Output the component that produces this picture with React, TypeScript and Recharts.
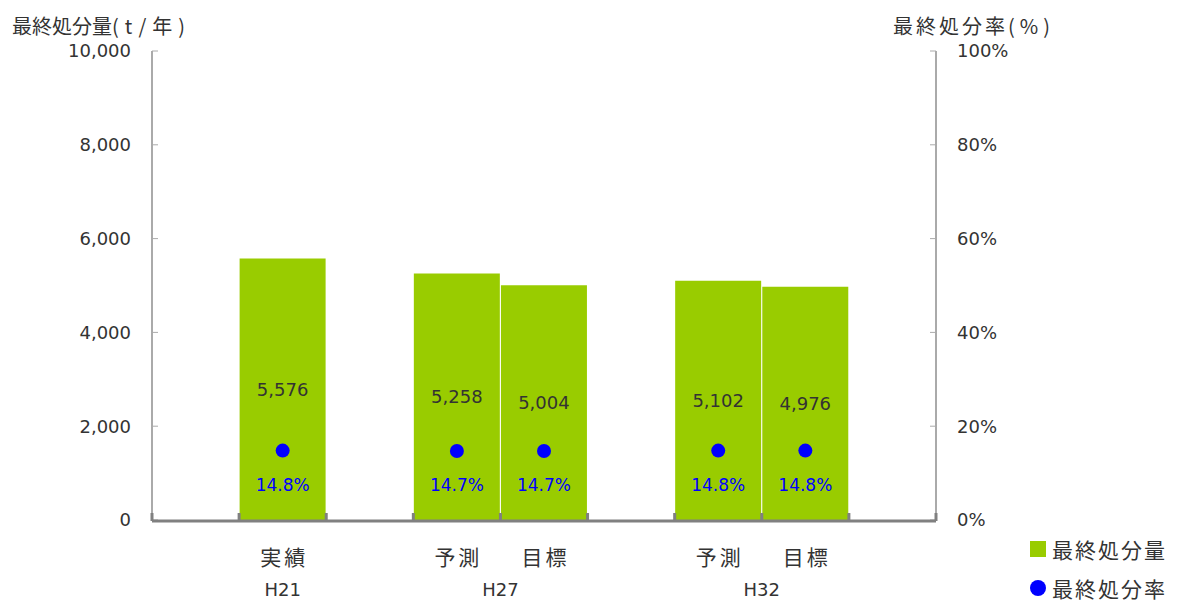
import { ComposedChart, Bar, Line, XAxis, YAxis, LabelList, Legend } from 'recharts';

const CATEGORIES = ['', '実績', '', '予測', '目標', '', '予測', '目標', ''];
const GROUPS = ['', 'H21', '', 'H27', '', '', 'H32', '', ''];
const GROUP_SPAN = [0, 1, 0, 2, 0, 0, 2, 0, 0];
const AMOUNT = [null, 5576, null, 5258, 5004, null, 5102, 4976, null];
const RATE = [null, 14.8, null, 14.7, 14.7, null, 14.8, 14.8, null];
const LEFT_TICKS = [0, 2000, 4000, 6000, 8000, 10000];
const RIGHT_TICKS = [0, 20, 40, 60, 80, 100];

const W = 1177;
const H = 601;
const PLOT_L = 152;
const PLOT_R = 936;
const SLOT = (PLOT_R - PLOT_L) / CATEGORIES.length;

const NUM_FONT = "'DejaVu Sans', 'Noto Sans CJK JP', sans-serif";
const JP_FONT = "'Noto Sans CJK JP', 'DejaVu Sans', sans-serif";
const TEXT = '#333333';
const GREEN = '#99cc00';
const BLUE = '#0000ff';

// slot: center of each category band on a 0..n scale, used only for the boundary tick marks
const data = CATEGORIES.map((name, i) => ({
  name,
  slot: i + 0.5,
  group: GROUPS[i],
  span: GROUP_SPAN[i],
  amount: AMOUNT[i],
  rate: RATE[i],
}));

const fmtNum = (v: any) => (v == null ? '' : Number(v).toLocaleString('en-US'));
const fmtPct = (v: any) => (v == null ? '' : Number(v).toFixed(1) + '%');

function CategoryTick(props: any) {
  const { x, y, index } = props;
  const row = data[index];
  if (!row) return <g />;
  return (
    <g>
      {row.name && (
        <text x={x + 1.5} y={y + 36} textAnchor="middle" dominantBaseline="central" fill={TEXT} fontSize={21} letterSpacing={3} fontFamily={JP_FONT}>
          {row.name}
        </text>
      )}
      {row.group && (
        <text x={x + ((row.span - 1) * SLOT) / 2} y={y + 69} textAnchor="middle" dominantBaseline="central" fill={TEXT} fontSize={18} fontFamily={NUM_FONT}>
          {row.group}
        </text>
      )}
    </g>
  );
}

function RateDot(props: any) {
  const { cx, cy, payload, index } = props;
  if (cy == null || payload == null || payload.rate == null) return <g key={index} />;
  return <circle key={index} cx={cx} cy={cy} r={7} fill={BLUE} />;
}

function LegendBox() {
  const row = { display: 'flex', alignItems: 'center', height: 39, fontSize: 21, letterSpacing: 2, whiteSpace: 'nowrap' as const, color: TEXT, fontFamily: JP_FONT };
  return (
    <div>
      <div style={row}>
        <span style={{ display: 'inline-block', width: 16, height: 16, background: GREEN, marginRight: 6 }} />
        最終処分量
      </div>
      <div style={row}>
        <span style={{ display: 'inline-block', width: 16, height: 16, borderRadius: 8, background: BLUE, marginRight: 6 }} />
        最終処分率
      </div>
    </div>
  );
}

export default function App() {
  return (
    <div style={{ position: 'absolute', left: 0, top: 0, width: W, height: H, background: '#fff' }}>
      <ComposedChart
        width={W}
        height={H}
        data={data}
        margin={{ top: 51, right: 0, bottom: 79, left: 0 }}
        barCategoryGap={0.5}
      >
        <XAxis
          xAxisId="cat"
          dataKey="name"
          height={1}
          axisLine={false}
          tickLine={false}
          tickSize={0}
          tickMargin={0}
          interval={0}
          tick={<CategoryTick />}
        />
        <YAxis
          yAxisId="left"
          width={PLOT_L}
          domain={[0, 10000]}
          ticks={LEFT_TICKS}
          tickFormatter={fmtNum}
          tickSize={-6}
          tickMargin={27}
          axisLine={{ stroke: '#aaaaaa', strokeWidth: 2 }}
          tickLine={{ stroke: '#aaaaaa', strokeWidth: 1 }}
          tick={{ fill: TEXT, fontSize: 18, fontFamily: NUM_FONT }}
          label={() => (
            <text x={12} y={25} dominantBaseline="central" fill={TEXT} fontSize={20} fontFamily={JP_FONT}>
              最終処分量<tspan letterSpacing={6}>(t/年)</tspan>
            </text>
          )}
        />
        <YAxis
          yAxisId="right"
          orientation="right"
          width={W - PLOT_R}
          domain={[0, 100]}
          ticks={RIGHT_TICKS}
          tickFormatter={(v: number) => v + '%'}
          tickSize={-6}
          tickMargin={27}
          axisLine={{ stroke: '#aaaaaa', strokeWidth: 2 }}
          tickLine={{ stroke: '#aaaaaa', strokeWidth: 1 }}
          tick={{ fill: TEXT, fontSize: 18, fontFamily: NUM_FONT, textAnchor: 'start' }}
          label={() => (
            <text x={893} y={25} dominantBaseline="central" fill={TEXT} fontSize={20} fontFamily={JP_FONT}>
              <tspan letterSpacing={3}>最終処分率</tspan>
              <tspan letterSpacing={5}>(%)</tspan>
            </text>
          )}
        />
        <Bar xAxisId="cat" yAxisId="left" dataKey="amount" fill={GREEN} isAnimationActive={false}>
          <LabelList dataKey="amount" position="center" formatter={fmtNum} fill={TEXT} fontSize={18} fontFamily={NUM_FONT} />
        </Bar>
        <Line
          xAxisId="cat"
          yAxisId="right"
          dataKey="rate"
          stroke="none"
          dot={<RateDot />}
          activeDot={false}
          isAnimationActive={false}
        >
          <LabelList dataKey="rate" position="bottom" offset={28} formatter={fmtPct} fill={BLUE} fontSize={17} fontFamily={NUM_FONT} />
        </Line>
        <XAxis
          xAxisId="frame"
          type="number"
          dataKey="slot"
          domain={[0, CATEGORIES.length]}
          allowDataOverflow
          ticks={CATEGORIES.map((_, i) => i).concat([CATEGORIES.length])}
          interval={0}
          height={1}
          tick={() => <g />}
          tickSize={-8}
          tickLine={{ stroke: '#808080', strokeWidth: 3 }}
          axisLine={{ stroke: '#808080', strokeWidth: 3 }}
        />
        <Legend
          layout="vertical"
          align="center"
          verticalAlign="middle"
          content={<LegendBox />}
          wrapperStyle={{ left: 1030, top: 529, width: 147, height: 80 }}
        />
      </ComposedChart>
    </div>
  );
}
